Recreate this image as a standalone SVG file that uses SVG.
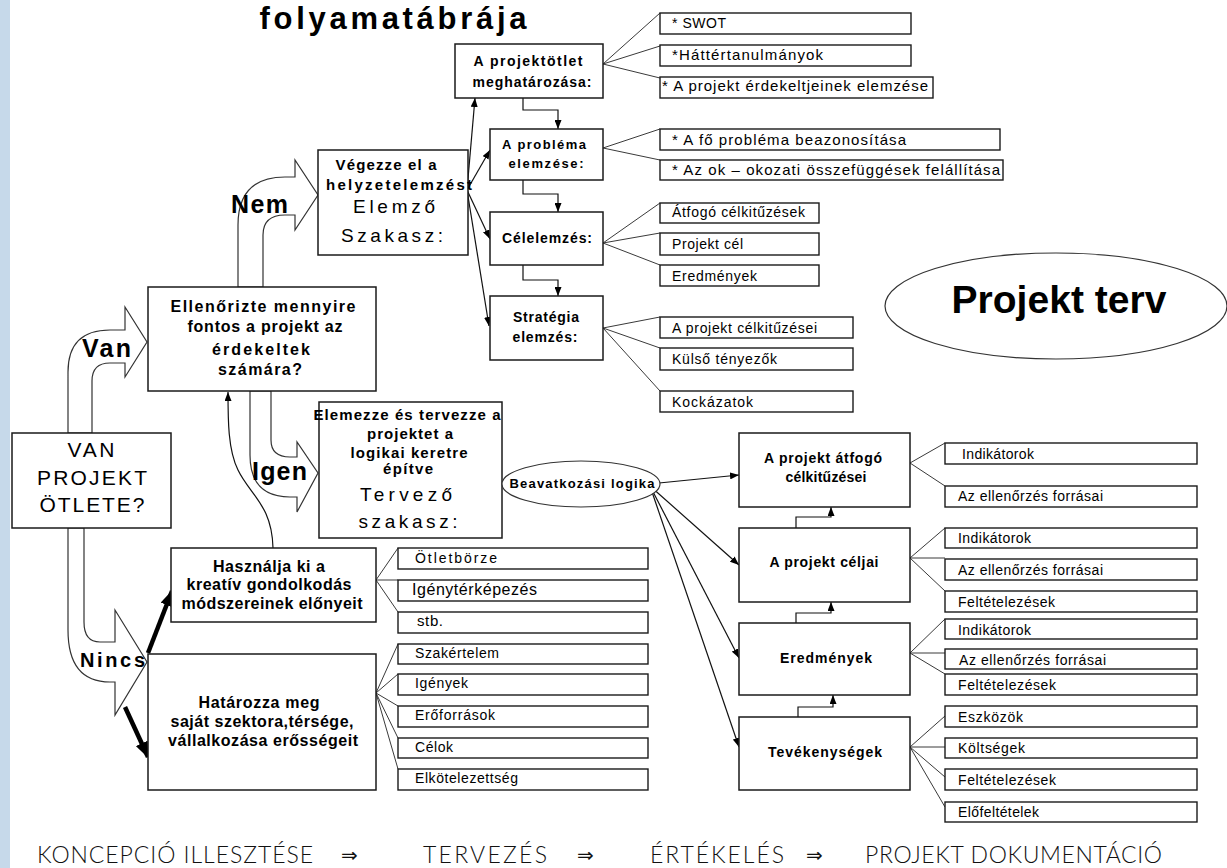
<svg xmlns="http://www.w3.org/2000/svg" width="1227" height="868" viewBox="0 0 1227 868">
  <defs>
    <style>
      .box { fill: #fff; stroke: #1a1a1a; stroke-width: 1.5; }
      .sbox { fill: #fff; stroke: #1a1a1a; stroke-width: 1.4; }
      .oval { fill: #fff; stroke: #333; stroke-width: 1.2; }
      .ln { fill: none; stroke: #3a3a3a; stroke-width: 1; }
      .arr { fill: none; stroke: #111; stroke-width: 1.2; marker-end: url(#ah); }
      .thick { fill: none; stroke: #000; stroke-width: 4.5; marker-end: url(#ahT); }
      .blk { fill: #fff; stroke: #333; stroke-width: 1.2; }
      text { font-family: "Liberation Sans", Arial, sans-serif; fill: #000; }
      .b { font-weight: bold; }
      .c { text-anchor: middle; }
      .s { font-size: 14px; }
      .m { font-size: 15px; }
      .l { font-size: 16px; }
      .wide { font-size: 19px; }
      .lbl { font-size: 25px; font-weight: bold; }
      .foot { font-family: "Lato", "Liberation Sans", sans-serif; font-weight: 300; font-size: 23px; fill: #111; }
      .sym { font-family: "DejaVu Sans", sans-serif; font-size: 20px; fill: #111; }
    </style>
    <marker id="ah" viewBox="0 0 9 7" markerUnits="userSpaceOnUse" markerWidth="9" markerHeight="7" refX="9" refY="3.5" orient="auto">
      <path d="M0,0 L9,3.5 L0,7 Z" fill="#000"/>
    </marker>
    <marker id="ahT" viewBox="0 0 16 13" markerUnits="userSpaceOnUse" markerWidth="16" markerHeight="13" refX="15" refY="6.5" orient="auto">
      <path d="M0,0 L16,6.5 L0,13 Z" fill="#000"/>
    </marker>
  </defs>

  <rect width="1227" height="868" fill="#fff"/>
  <!-- decorative side strip -->
  <rect x="0" y="0" width="10" height="868" fill="#c6d9ea"/>

  <text class="b c" x="393" y="29" font-size="31" textLength="267">folyamatábrája</text>

  <!-- broad curved flow arrows -->
  <g id="flow-arrows">
    <path class="blk" d="M68,433 L68,372 Q68,330 110,330 L125,330 L125,307 L147,342 L125,377 L125,363 L110,363 Q92,363 92,381 L92,433 Z"/>
    <path class="blk" d="M238,287 L238,225 Q238,177 285,177 L295,177 L295,160 L318,195 L295,230 L295,215 L285,215 Q263,215 263,235 L263,287 Z"/>
    <path class="blk" d="M250,391 L250,455 Q250,497 290,497 L297,497 L297,512 L318,473 L297,442 L297,457 L290,457 Q271,457 271,440 L271,391 Z"/>
    <path class="blk" d="M68,528 L68,630 Q68,682 110,682 L115,682 L115,715 L147,662 L115,610 L115,642 L100,642 Q84,642 84,622 L84,528 Z"/>
    <text class="lbl" x="82" y="357" textLength="49">Van</text>
    <text class="lbl" x="231" y="213" textLength="57">Nem</text>
    <text class="lbl" x="252" y="480" textLength="55">Igen</text>
    <text class="b" x="80" y="667" font-size="20" textLength="65">Nincs</text>
  </g>

  <!-- connectors -->
  <g id="connectors">
    <!-- analysis stage -->
    <line class="arr" x1="467" y1="190" x2="475" y2="98"/>
    <line class="arr" x1="467" y1="190" x2="490" y2="150"/>
    <line class="arr" x1="467" y1="190" x2="490" y2="239"/>
    <line class="arr" x1="467" y1="190" x2="489" y2="326"/>
    <polyline class="arr" points="523,98 523,110 558,110 558,129"/>
    <polyline class="arr" points="523,180 523,194 558,194 558,212"/>
    <polyline class="arr" points="523,265 523,280 558,280 558,296"/>
    <path class="ln" d="M603,64 L660,13 M603,64 L660,46 M603,64 L660,78"/>
    <path class="ln" d="M603,148 L660,129 M603,148 L660,160"/>
    <path class="ln" d="M603,243 L660,203 M603,243 L660,233 M603,243 L660,265"/>
    <path class="ln" d="M603,328 L660,317 M603,328 L660,348 M603,328 L660,391"/>

    <!-- planning stage -->
    <line class="arr" x1="478" y1="475" x2="502" y2="475"/>
    <line class="arr" x1="659" y1="483" x2="739" y2="475"/>
    <line class="arr" x1="650" y1="486" x2="739" y2="565"/>
    <line class="arr" x1="650" y1="486" x2="739" y2="658"/>
    <line class="arr" x1="650" y1="486" x2="739" y2="747"/>
    <polyline class="arr" points="796,528 796,517 831,517 831,507"/>
    <polyline class="arr" points="796,623 796,613 831,613 831,602"/>
    <polyline class="arr" points="798,717 798,707 833,707 833,695"/>
    <path class="ln" d="M910,463 L945,443 M910,463 L945,486"/>
    <path class="ln" d="M910,558 L945,528 M910,558 L945,558 M910,558 L945,591"/>
    <path class="ln" d="M910,653 L945,619 M910,653 L945,653 M910,653 L945,674"/>
    <path class="ln" d="M910,747 L945,716 M910,747 L945,747 M910,747 L945,777 M910,747 L945,807"/>

    <!-- idea generation -->
    <path class="arr" d="M273,548 C272,505 250,495 238,470 C228,450 228,420 228,392"/>
    <line class="thick" x1="148" y1="653" x2="172" y2="591"/>
    <line class="thick" x1="125" y1="707" x2="148" y2="757"/>
    <path class="ln" d="M376,580 L398,548 M376,580 L398,580 M376,580 L398,612"/>
    <path class="ln" d="M376,693 L398,644 M376,693 L398,674 M376,693 L398,706 M376,693 L398,738 M376,693 L398,769"/>
  </g>

  <!-- main decision nodes -->
  <g id="n-van-otlet">
    <rect class="box" x="12" y="433" width="159" height="95"/>
    <text class="c" x="91" y="457" font-size="21" textLength="47">VAN</text>
    <text class="c" x="92" y="485" font-size="21" textLength="110">PROJEKT</text>
    <text class="c" x="92" y="512" font-size="21" textLength="105">ÖTLETE?</text>
  </g>

  <g id="n-ellenorizte">
    <rect class="box" x="148" y="287" width="228" height="104"/>
    <text class="b c l" x="263" y="312" textLength="185">Ellenőrizte mennyire</text>
    <text class="b c l" x="265" y="332" textLength="155">fontos a projekt az</text>
    <text class="b c l" x="261" y="355" textLength="98">érdekeltek</text>
    <text class="b c l" x="260" y="375" textLength="84">számára?</text>
  </g>

  <g id="n-vegezze">
    <rect class="box" x="318" y="150" width="150" height="105"/>
    <text class="b c m" x="386" y="170" textLength="101">Végezze el a</text>
    <text class="b c m" x="399" y="190" textLength="146">helyzetelemzést</text>
    <text class="c wide" x="394" y="213" textLength="82">Elemző</text>
    <text class="c wide" x="392" y="242" textLength="102">Szakasz:</text>
  </g>

  <g id="n-projektotlet">
    <rect class="box" x="455" y="44" width="148" height="54"/>
    <text class="b c s" x="528" y="66" textLength="109">A projektötlet</text>
    <text class="b c s" x="532" y="87" textLength="119">meghatározása:</text>
  </g>

  <g id="n-problema">
    <rect class="box" x="490" y="129" width="113" height="51"/>
    <text class="b c" x="544" y="149" font-size="13" textLength="84">A probléma</text>
    <text class="b c" x="546" y="168" font-size="13" textLength="75">elemzése:</text>
  </g>

  <g id="n-celelemzes">
    <rect class="box" x="490" y="212" width="113" height="53"/>
    <text class="b c s" x="547" y="243" textLength="90">Célelemzés:</text>
  </g>

  <g id="n-strategia">
    <rect class="box" x="490" y="296" width="113" height="64"/>
    <text class="b c s" x="546" y="322" textLength="66">Stratégia</text>
    <text class="b c s" x="545" y="342" textLength="65">elemzés:</text>
  </g>

  <g id="n-analysis-items">
    <rect class="sbox" x="660" y="13" width="251" height="21"/>
    <text class="s" x="672" y="28" textLength="54">* SWOT</text>
    <rect class="sbox" x="660" y="45" width="251" height="21"/>
    <text x="672" y="60" font-size="15" textLength="151">*Háttértanulmányok</text>
    <rect class="sbox" x="660" y="77" width="273" height="21"/>
    <text x="662" y="91" font-size="15" textLength="266">* A projekt érdekeltjeinek elemzése</text>
    <rect class="sbox" x="660" y="129" width="340" height="21"/>
    <text x="672" y="145" font-size="15" textLength="234">* A fő probléma beazonosítása</text>
    <rect class="sbox" x="660" y="160" width="343" height="20"/>
    <text x="672" y="175" font-size="15" textLength="328">* Az ok – okozati összefüggések felállítása</text>
    <rect class="sbox" x="660" y="203" width="159" height="20"/>
    <text class="s" x="672" y="217" textLength="133">Átfogó célkitűzések</text>
    <rect class="sbox" x="660" y="233" width="159" height="22"/>
    <text class="s" x="672" y="249" textLength="71">Projekt cél</text>
    <rect class="sbox" x="660" y="265" width="159" height="21"/>
    <text class="s" x="672" y="281" textLength="85">Eredmények</text>
    <rect class="sbox" x="660" y="317" width="193" height="21"/>
    <text class="s" x="672" y="333" textLength="145">A projekt célkitűzései</text>
    <rect class="sbox" x="660" y="348" width="193" height="22"/>
    <text class="s" x="672" y="364" textLength="105">Külső tényezők</text>
    <rect class="sbox" x="660" y="391" width="193" height="21"/>
    <text class="s" x="672" y="407" textLength="81">Kockázatok</text>
  </g>

  <g id="n-projekt-terv">
    <ellipse class="oval" cx="1056" cy="306" rx="171" ry="53"/>
    <text class="b c" x="1059" y="313" font-size="39" textLength="215">Projekt terv</text>
  </g>

  <g id="n-elemezze">
    <rect class="box" x="319" y="402" width="183" height="136"/>
    <text class="b c m" x="407" y="420" textLength="187">Elemezze és tervezze a</text>
    <text class="b c m" x="410" y="439" textLength="86">projektet a</text>
    <text class="b c m" x="409" y="458" textLength="117">logikai keretre</text>
    <text class="b c m" x="408" y="474" textLength="50">építve</text>
    <text class="c wide" x="406" y="501" textLength="92">Tervező</text>
    <text class="c wide" x="408" y="528" textLength="99">szakasz:</text>
  </g>

  <g id="n-beavatkozasi-logika">
    <ellipse class="oval" cx="581" cy="484" rx="79" ry="23"/>
    <text class="b c" x="582" y="488" font-size="13" textLength="145">Beavatkozási logika</text>
  </g>

  <g id="n-atfogo">
    <rect class="box" x="739" y="433" width="171" height="74"/>
    <text class="b c s" x="823" y="463" textLength="118">A projekt átfogó</text>
    <text class="b c s" x="826" y="482" textLength="81">célkitűzései</text>
  </g>
  <g id="n-celjai">
    <rect class="box" x="739" y="528" width="171" height="74"/>
    <text class="b c s" x="824" y="567" textLength="109">A projekt céljai</text>
  </g>
  <g id="n-eredmenyek">
    <rect class="box" x="739" y="623" width="171" height="72"/>
    <text class="b c s" x="826" y="663" textLength="92">Eredmények</text>
  </g>
  <g id="n-tevekenysegek">
    <rect class="box" x="739" y="717" width="171" height="73"/>
    <text class="b c s" x="825" y="757" textLength="114">Tevékenységek</text>
  </g>

  <g id="n-logframe-items">
    <rect class="sbox" x="945" y="443" width="252" height="21"/>
    <text class="s" x="962" y="459" textLength="72">Indikátorok</text>
    <rect class="sbox" x="945" y="486" width="252" height="21"/>
    <text class="s" x="958" y="501" textLength="145">Az ellenőrzés forrásai</text>
    <rect class="sbox" x="945" y="528" width="252" height="20"/>
    <text class="s" x="958" y="543" textLength="73">Indikátorok</text>
    <rect class="sbox" x="945" y="559" width="252" height="21"/>
    <text class="s" x="958" y="575" textLength="145">Az ellenőrzés forrásai</text>
    <rect class="sbox" x="945" y="591" width="252" height="21"/>
    <text class="s" x="958" y="607" textLength="97">Feltételezések</text>
    <rect class="sbox" x="945" y="619" width="252" height="20"/>
    <text class="s" x="958" y="635" textLength="73">Indikátorok</text>
    <rect class="sbox" x="945" y="649" width="252" height="20"/>
    <text class="s" x="959" y="665" textLength="147">Az ellenőrzés forrásai</text>
    <rect class="sbox" x="945" y="674" width="252" height="21"/>
    <text class="s" x="958" y="690" textLength="98">Feltételezések</text>
    <rect class="sbox" x="945" y="706" width="252" height="21"/>
    <text class="s" x="958" y="722" textLength="65">Eszközök</text>
    <rect class="sbox" x="945" y="738" width="252" height="20"/>
    <text class="s" x="958" y="753" textLength="67">Költségek</text>
    <rect class="sbox" x="945" y="769" width="252" height="21"/>
    <text class="s" x="958" y="785" textLength="98">Feltételezések</text>
    <rect class="sbox" x="945" y="802" width="252" height="20"/>
    <text class="s" x="958" y="817" textLength="81">Előfeltételek</text>
  </g>

  <g id="n-hasznalja">
    <rect class="box" x="171" y="548" width="205" height="74"/>
    <text class="b c l" x="269" y="572" textLength="112">Használja ki a</text>
    <text class="b c l" x="269" y="590" textLength="165">kreatív gondolkodás</text>
    <text class="b c l" x="272" y="609" textLength="181">módszereinek előnyeit</text>
  </g>

  <g id="n-hatarozza">
    <rect class="box" x="148" y="654" width="228" height="136"/>
    <text class="b c l" x="259" y="708" textLength="121">Határozza meg</text>
    <text class="b c l" x="262" y="727" textLength="183">saját szektora,térsége,</text>
    <text class="b c l" x="263" y="746" textLength="190">vállalkozása erősségeit</text>
  </g>

  <g id="n-creative-items">
    <rect class="sbox" x="398" y="548" width="250" height="21"/>
    <text class="s" x="415" y="563" textLength="82">Ötletbörze</text>
    <rect class="sbox" x="398" y="580" width="250" height="21"/>
    <text x="412" y="595" font-size="16" textLength="125">Igénytérképezés</text>
    <rect class="sbox" x="398" y="612" width="250" height="21"/>
    <text class="m" x="417" y="626" textLength="26">stb.</text>
    <rect class="sbox" x="398" y="644" width="250" height="20"/>
    <text class="s" x="415" y="658" textLength="84">Szakértelem</text>
    <rect class="sbox" x="398" y="674" width="250" height="21"/>
    <text class="s" x="415" y="688" textLength="53">Igények</text>
    <rect class="sbox" x="398" y="706" width="250" height="21"/>
    <text class="s" x="415" y="720" textLength="80">Erőforrások</text>
    <rect class="sbox" x="398" y="738" width="250" height="20"/>
    <text class="s" x="415" y="752" textLength="38">Célok</text>
    <rect class="sbox" x="398" y="769" width="250" height="21"/>
    <text class="s" x="415" y="783" textLength="103">Elkötelezettség</text>
  </g>

  <!-- project cycle footer -->
  <g id="footer">
    <text class="foot" x="37" y="863" textLength="276">KONCEPCIÓ ILLESZTÉSE</text>
    <text class="sym" x="341" y="862">⇒</text>
    <text class="foot" x="423" y="863" textLength="124">TERVEZÉS</text>
    <text class="sym" x="577" y="862">⇒</text>
    <text class="foot" x="650" y="863" textLength="134">ÉRTÉKELÉS</text>
    <text class="sym" x="806" y="862">⇒</text>
    <text class="foot" x="865" y="863" textLength="297">PROJEKT DOKUMENTÁCIÓ</text>
  </g>
</svg>
